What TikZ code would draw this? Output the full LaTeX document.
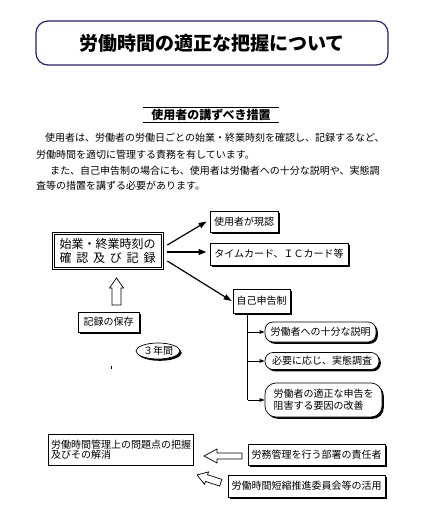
\documentclass[tikz,border=0pt]{standalone}
\usepackage{fontspec}
\setmainfont{Noto Sans CJK JP}
\usetikzlibrary{positioning,arrows.meta,shapes.geometric,shadows}
\definecolor{titlenavy}{RGB}{36,32,120}
\tikzset{
  sbox/.style={draw, fill=white, line width=0.7pt, inner sep=0pt,
               font=\fontsize{10}{12}\selectfont,
               general shadow={fill=black, shadow xshift=1.8pt, shadow yshift=-1.8pt}},
  pill/.style={sbox, rounded corners=8pt},
  bodyline/.style={anchor=west, inner sep=0pt, font=\fontsize{10}{12}\selectfont},
  fa/.style={-{Triangle[length=8pt,width=5.5pt]}, line width=1.2pt},
  fb/.style={-{Triangle[length=5pt,width=3.5pt]}, line width=0.8pt},
  hollow/.style={draw, fill=white, line width=0.7pt, line join=miter}
}
\begin{document}
\begin{tikzpicture}[x=1pt,y=-1pt]
  \useasboundingbox (0,0) rectangle (427,524);
  % title and explanation
  \node[draw=titlenavy, line width=1.2pt, rounded corners=12pt, minimum width=352pt,
        minimum height=44pt, font=\bfseries\fontsize{19}{21}\selectfont] (title) at (212,43) {労働時間の適正な把握について};
  \node[minimum width=135pt, minimum height=15pt, inner sep=0pt,
        font=\bfseries\fontsize{12}{14}\selectfont] (sub) at (211,115) {使用者の講ずべき措置};
  \draw[line width=1pt] (sub.north west) -- (sub.north east);
  \draw[line width=1pt] (sub.south west) -- (sub.south east);
  \node[bodyline] (b1) at (45,138) {使用者は、労働者の労働日ごとの始業・終業時刻を確認し、記録するなど、};
  \node[bodyline] (b2) at (36,155) {労働時間を適切に管理する責務を有しています。};
  \node[bodyline] (b3) at (50,171) {また、自己申告制の場合にも、使用者は労働者への十分な説明や、実態調};
  \node[bodyline] (b4) at (36,186) {査等の措置を講ずる必要があります。};

  % recording and its methods
  \node[draw, line width=0.7pt, minimum width=111pt, minimum height=37pt, inner sep=0pt,
        align=center, font=\fontsize{12}{14}\selectfont] (rec) at (107.5,250.5)
        {始業・終業時刻の\\\makebox[96pt][s]{確\hfill 認\hfill 及\hfill び\hfill 記\hfill 録}};
  \draw[line width=0.6pt] ([xshift=2.2pt,yshift=-2.2pt]rec.north west) rectangle ([xshift=-2.2pt,yshift=2.2pt]rec.south east);
  \node[sbox, minimum width=68pt, minimum height=21pt] (genin) at (244,221.5) {使用者が現認};
  \node[sbox, minimum width=138pt, minimum height=22pt] (card) at (279,254) {タイムカード、ＩＣカード等};
  \node[sbox, minimum width=57pt, minimum height=24pt] (jiko) at (261.5,301) {自己申告制};
  \draw[fa] ([xshift=4pt,yshift=5.5pt]rec.east) -- ([xshift=-3pt]genin.west);
  \draw[fa, line width=2.6pt] ([xshift=4pt,yshift=-1.5pt]rec.east) -- ([xshift=-3pt,yshift=2pt]card.west);
  \draw[fa] ([xshift=4pt,yshift=-10.5pt]rec.east) -- ([xshift=-1pt]jiko.west);

  % self-report branches
  \node[pill, minimum width=111pt, minimum height=20pt] (p1) at (320.5,332) {労働者への十分な説明};
  \node[pill, minimum width=114pt, minimum height=17pt] (p2) at (322,361) {必要に応じ、実態調査};
  \node[pill, rounded corners=11pt, minimum width=117pt, minimum height=34pt,
        align=left] (p3) at (323.5,400) {労働者の適正な申告を\\阻害する要因の改善};
  \coordinate (trunk) at ([xshift=15pt]jiko.south west);
  \draw[line width=0.8pt] (trunk) -- (trunk |- p3.west);
  \foreach \p in {p1,p2,p3}
    \draw[fb] (trunk |- \p.west) -- (\p.west);

  % keeping the records
  \node[sbox, minimum width=61pt, minimum height=20pt] (keep) at (108.5,322) {記録の保存};
  \node[sbox, ellipse, minimum width=44pt, minimum height=16pt] (yrs) at (158,351) {３年間};
  \coordinate (uptip) at (116.5,278);
  \draw[hollow] (uptip) -- ++(7,10) -- ++(-2.5,0) -- ++(0,17) -- ++(-9,0) -- ++(0,-17) -- ++(-2.5,0) -- cycle;
  \draw[line width=0.6pt] (111,366) -- (111,369);

  % problems and who solves them
  \node[draw, line width=0.7pt, minimum width=145pt, minimum height=31pt, inner sep=0pt,
        text width=139pt, align=left, font=\fontsize{10}{10.5}\selectfont] (issue) at (120.5,449.5)
        {労働時間管理上の問題点の把握\\及びその解消};
  \node[sbox, minimum width=137pt, minimum height=21pt] (bucho) at (316.5,454.5) {労務管理を行う部署の責任者};
  \node[sbox, minimum width=157pt, minimum height=22pt] (iin) at (306.5,486) {労働時間短縮推進委員会等の活用};
  \coordinate (ltip) at (204,456);
  \draw[hollow] (ltip) -- ++(13,-7) -- ++(0,4) -- ++(25,0) -- ++(0,6) -- ++(-25,0) -- ++(0,4) -- cycle;
  \coordinate (dtip) at (197,475);
  \begin{scope}[shift={(dtip)}, rotate=-18]
    \draw[hollow] (0,0) -- (10,-6.5) -- (10,-3.5) -- (25,-3.5) -- (25,3.5) -- (10,3.5) -- (10,6.5) -- cycle;
  \end{scope}
\end{tikzpicture}
\end{document}
